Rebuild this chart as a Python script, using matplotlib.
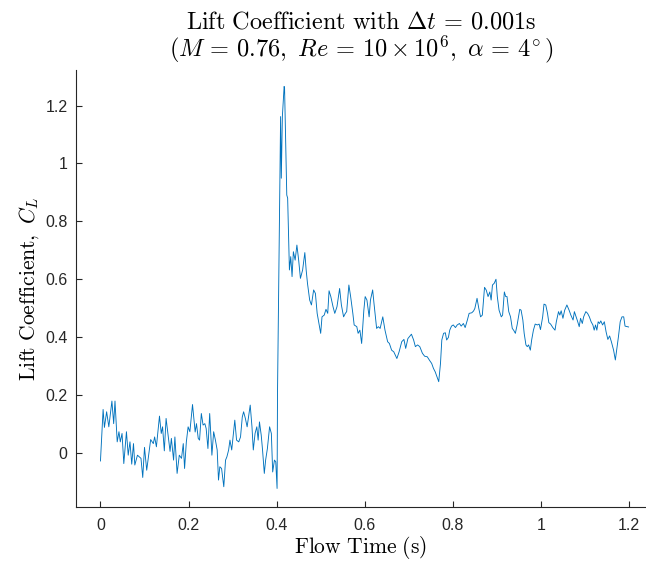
import matplotlib
matplotlib.use("Agg")
import matplotlib.pyplot as plt

plt.rcParams['mathtext.fontset'] = 'cm'
plt.rcParams['font.family'] = 'Liberation Sans'

# flow time (s)
t = [0.000, 0.006, 0.009, 0.014, 0.019, 0.026, 0.030, 0.033, 0.038, 0.042,
     0.045, 0.049, 0.053, 0.059, 0.063, 0.067, 0.071, 0.075, 0.078, 0.084,
     0.092, 0.096, 0.100, 0.105, 0.108, 0.114, 0.120, 0.123, 0.127, 0.134,
     0.138, 0.141, 0.145, 0.149, 0.154, 0.158, 0.161, 0.166, 0.169, 0.174,
     0.179, 0.184, 0.188, 0.191, 0.195, 0.199, 0.203, 0.209,
     0.215, 0.218, 0.222, 0.225, 0.229, 0.233, 0.237, 0.240, 0.244, 0.248,
     0.253, 0.257, 0.261, 0.265, 0.268, 0.271, 0.275, 0.280, 0.284, 0.287,
     0.291, 0.294, 0.298, 0.302, 0.305, 0.309, 0.314, 0.318, 0.322, 0.325,
     0.329, 0.333, 0.340, 0.344, 0.347, 0.351, 0.355, 0.358, 0.361, 0.365,
     0.368, 0.372, 0.375, 0.379, 0.384, 0.388, 0.391, 0.395, 0.398, 0.401,
     0.402, 0.409, 0.4106, 0.413, 0.417, 0.418, 0.423, 0.425, 0.429, 0.432,
     0.435, 0.438, 0.442, 0.446, 0.450, 0.454, 0.459, 0.464, 0.467, 0.470,
     0.475, 0.479, 0.484, 0.488, 0.492, 0.496, 0.500, 0.503, 0.508, 0.512,
     0.516, 0.519, 0.523, 0.528, 0.532, 0.537, 0.543, 0.547, 0.552, 0.556,
     0.559, 0.564, 0.568, 0.573, 0.576, 0.582, 0.585, 0.589, 0.593, 0.598,
     0.601, 0.605, 0.610, 0.613, 0.618, 0.621, 0.627, 0.631,
     0.635, 0.641, 0.646, 0.652, 0.656, 0.661, 0.666, 0.673, 0.678, 0.684,
     0.689, 0.693, 0.698, 0.706, 0.711, 0.715, 0.720, 0.725, 0.731, 0.736,
     0.742, 0.747, 0.752, 0.756, 0.760, 0.764, 0.768, 0.772, 0.775, 0.779,
     0.783, 0.786, 0.790, 0.793, 0.797, 0.801, 0.806, 0.810, 0.815, 0.819,
     0.824, 0.828, 0.833, 0.837, 0.843, 0.847, 0.850, 0.855, 0.859, 0.863,
     0.867, 0.872, 0.876, 0.880, 0.884, 0.887, 0.890, 0.894, 0.898, 0.901,
     0.905, 0.910, 0.913, 0.917, 0.920, 0.923, 0.927, 0.931, 0.935, 0.938,
     0.942, 0.946, 0.952, 0.955, 0.959, 0.962, 0.966, 0.969, 0.972, 0.976,
     0.979, 0.983, 0.987, 0.992, 0.996, 0.999, 1.004, 1.007, 1.011, 1.015,
     1.018, 1.022, 1.027, 1.032, 1.035, 1.040, 1.043, 1.046, 1.050, 1.054,
     1.059, 1.064, 1.068, 1.073, 1.076, 1.080, 1.083, 1.087, 1.090, 1.094,
     1.097, 1.102, 1.106, 1.110, 1.114, 1.118, 1.121, 1.124, 1.127, 1.130,
     1.133, 1.136, 1.140, 1.144, 1.148, 1.152, 1.156, 1.160, 1.165, 1.169,
     1.172, 1.176, 1.180, 1.184, 1.188, 1.191, 1.199]

# lift coefficient C_L
cl = [-0.028, 0.150, 0.088, 0.142, 0.090, 0.179, 0.101, 0.179, 0.038, 0.073,
      0.038, 0.067, -0.037, 0.073, -0.008, 0.038, -0.039, 0.032, -0.042, -0.008,
      -0.019, -0.085, 0.019, -0.060, -0.025, 0.046, 0.032, 0.055, 0.021, 0.127,
      0.067, 0.090, 0.007, 0.119, 0.055, 0.005, 0.050, -0.025, 0.055, -0.071,
      -0.008, -0.019, 0.032, -0.054, 0.038, 0.090, 0.073, 0.167,
      0.072, 0.101, 0.050, 0.044, 0.136, 0.096, 0.101, 0.084, 0.015, 0.136,
      -0.008, 0.073, 0.044, 0.010, -0.094, -0.048, -0.054, -0.117, -0.025, -0.014,
      0.010, 0.044, 0.010, 0.067, 0.113, 0.044, 0.038, 0.055, 0.124, 0.142,
      0.119, 0.090, 0.165, 0.090, 0.010, 0.067, 0.090, 0.044, 0.107, 0.061,
      0.010, -0.071, -0.025, 0.015, 0.090, 0.067, -0.066, -0.025, -0.031, -0.123,
      0.211, 1.162, 0.949, 1.162, 1.266, 1.260, 0.891, 0.880, 0.632, 0.678,
      0.609, 0.695, 0.666, 0.718, 0.666, 0.603, 0.632, 0.692, 0.632, 0.586,
      0.528, 0.511, 0.563, 0.551, 0.482, 0.447, 0.413, 0.470, 0.476, 0.496,
      0.482, 0.560, 0.540, 0.505, 0.482, 0.505, 0.568, 0.511, 0.470, 0.482,
      0.488, 0.580, 0.540, 0.482, 0.442, 0.436, 0.413, 0.424, 0.378, 0.493,
      0.540, 0.528, 0.470, 0.528, 0.563, 0.517, 0.430, 0.436,
      0.430, 0.470, 0.424, 0.384, 0.378, 0.355, 0.349, 0.326, 0.349, 0.384,
      0.392, 0.361, 0.395, 0.410, 0.390, 0.367, 0.373, 0.367, 0.344, 0.334,
      0.332, 0.320, 0.309, 0.292, 0.280, 0.263, 0.246, 0.309, 0.390, 0.413,
      0.415, 0.390, 0.399, 0.424, 0.438, 0.442, 0.433, 0.442, 0.447, 0.438,
      0.447, 0.433, 0.459, 0.482, 0.484, 0.490, 0.499, 0.534, 0.499, 0.470,
      0.476, 0.572, 0.562, 0.540, 0.556, 0.528, 0.580, 0.586, 0.600, 0.540,
      0.493, 0.470, 0.476, 0.556, 0.540, 0.540, 0.488, 0.470, 0.430, 0.424,
      0.413, 0.442, 0.496, 0.493, 0.459, 0.413, 0.373, 0.367, 0.373, 0.355,
      0.390, 0.424, 0.445, 0.442, 0.445, 0.426, 0.470, 0.514, 0.511, 0.482,
      0.450, 0.445, 0.433, 0.424, 0.453, 0.488, 0.476, 0.491, 0.465, 0.493,
      0.511, 0.493, 0.476, 0.459, 0.488, 0.470, 0.456, 0.436, 0.465, 0.447,
      0.470, 0.488, 0.482, 0.470, 0.453, 0.442, 0.424, 0.442, 0.424, 0.453,
      0.447, 0.456, 0.442, 0.453, 0.418, 0.392, 0.404, 0.384, 0.355, 0.321,
      0.355, 0.401, 0.453, 0.470, 0.470, 0.438, 0.435]

axcol = '#262626'

fig = plt.figure(figsize=(6.46, 5.63), dpi=100)
ax = fig.add_axes([0.1176, 0.0995, 0.8824, 0.7762])

ax.plot(t, cl, color='#0072BD', linewidth=0.65)

ax.set_xlim(-0.0556, 1.2386)
ax.set_ylim(-0.187, 1.323)
ax.set_xticks([0, 0.2, 0.4, 0.6, 0.8, 1, 1.2])
ax.set_xticklabels(['0', '0.2', '0.4', '0.6', '0.8', '1', '1.2'])
ax.set_yticks([0, 0.2, 0.4, 0.6, 0.8, 1, 1.2])
ax.set_yticklabels(['0', '0.2', '0.4', '0.6', '0.8', '1', '1.2'])

ax.spines['top'].set_visible(False)
ax.spines['right'].set_visible(False)
for s in ['left', 'bottom']:
    ax.spines[s].set_color(axcol)
    ax.spines[s].set_linewidth(0.8)
ax.tick_params(direction='in', length=4, width=0.8, color=axcol,
               labelcolor=axcol, labelsize=11.5)
ax.tick_params(axis='x', pad=8)
ax.tick_params(axis='y', pad=6)

ax.set_xlabel(r'$\mathrm{Flow\ Time\ (s)}$', fontsize=15.5, labelpad=1)
ax.set_ylabel(r'$\mathrm{Lift\ Coefficient,\ }C_L$', fontsize=15.5, labelpad=3)
ax.set_title(r'$\mathrm{Lift\ Coefficient\ with\ }\Delta t\,=\,0.001\mathrm{s}$' + '\n'
             + r'$(M\,=\,0.76,\ Re\,=\,10 \times 10^6,\ \alpha\,=\,4^{\!\circ})$',
             fontsize=17.5, pad=10, linespacing=1.0)

fig.savefig('out.png', dpi=100)
